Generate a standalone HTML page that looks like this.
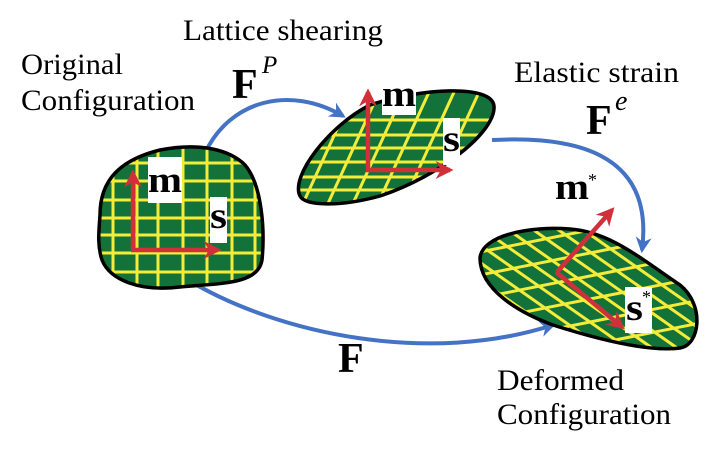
<!DOCTYPE html>
<html><head><meta charset="utf-8"><style>
html,body{margin:0;padding:0;background:#fff;width:726px;height:454px;overflow:hidden}
svg{display:block}
text{font-family:"Liberation Serif",serif;fill:#000}
.b{font-weight:bold}
</style></head><body>
<svg width="726" height="454" viewBox="0 0 726 454">
<defs>
<clipPath id="c1"><path d="M100,215 C100,180 120,160 160,150 C200,142 230,150 245,165 C262,185 265,230 262,260 C258,285 220,283 180,287 C140,292 110,280 102,260 C97,245 99,230 100,215 Z"/></clipPath>
<clipPath id="c2"><path d="M300,196 C290,176 330,125 370,105 C420,88 492,84 494,106 C496,132 440,176 380,196 C340,207 305,206 300,196 Z"/></clipPath>
<clipPath id="c3"><path d="M480,258 C482,235 530,226 570,229 C610,232 640,258 680,285 C705,305 700,345 680,348 C650,352 600,340 553,325 C520,313 480,290 480,258 Z"/></clipPath>
<marker id="ab" viewBox="0 0 10 10" refX="8" refY="5" markerWidth="4" markerHeight="4" orient="auto"><path d="M0,0 L10,5 L0,10 L3,5 Z" fill="#4472c4"/></marker>
<marker id="ar" viewBox="0 0 10 10" refX="8" refY="5" markerWidth="4" markerHeight="4" orient="auto"><path d="M0,0 L10,5 L0,10 L3,5 Z" fill="#d0303a"/></marker>
</defs>

<g fill="none" stroke="#4472c4" stroke-width="4">
<path d="M205,153 C230,100 290,85 343,116" marker-end="url(#ab)"/>
<path d="M492,140 C570,136 655,150 642,250" marker-end="url(#ab)"/>
<path d="M188,280 C280,335 430,365 553,325" marker-end="url(#ab)"/>
</g>

<path d="M100,215 C100,180 120,160 160,150 C200,142 230,150 245,165 C262,185 265,230 262,260 C258,285 220,283 180,287 C140,292 110,280 102,260 C97,245 99,230 100,215 Z" fill="#13723a"/>
<g clip-path="url(#c1)" stroke="#f5ec3a" stroke-width="3">
<line x1="113" y1="140" x2="113" y2="300"/><line x1="137" y1="140" x2="137" y2="300"/><line x1="158" y1="140" x2="158" y2="300"/><line x1="183" y1="140" x2="183" y2="300"/><line x1="207" y1="140" x2="207" y2="300"/><line x1="232" y1="140" x2="232" y2="300"/><line x1="255" y1="140" x2="255" y2="300"/>
<line x1="90" y1="163" x2="270" y2="163"/><line x1="90" y1="181" x2="270" y2="181"/><line x1="90" y1="200" x2="270" y2="200"/><line x1="90" y1="218" x2="270" y2="218"/><line x1="90" y1="235" x2="270" y2="235"/><line x1="90" y1="253" x2="270" y2="253"/><line x1="90" y1="272" x2="270" y2="272"/>
</g>
<path d="M100,215 C100,180 120,160 160,150 C200,142 230,150 245,165 C262,185 265,230 262,260 C258,285 220,283 180,287 C140,292 110,280 102,260 C97,245 99,230 100,215 Z" fill="none" stroke="#000" stroke-width="3.5"/>
<rect x="148" y="157" width="34" height="46" fill="#fff"/>
<text x="148" y="192" class="b" font-size="37" textLength="34" lengthAdjust="spacingAndGlyphs">m</text>
<rect x="210" y="197" width="17" height="46" fill="#fff"/>
<text x="210" y="228" class="b" font-size="37" textLength="17" lengthAdjust="spacingAndGlyphs">s</text>
<g stroke="#d0303a" stroke-width="4.5" fill="none">
<path d="M133,250 L133,173" marker-end="url(#ar)"/>
<path d="M131,250 L218,250" marker-end="url(#ar)"/>
</g>

<path d="M300,196 C290,176 330,125 370,105 C420,88 492,84 494,106 C496,132 440,176 380,196 C340,207 305,206 300,196 Z" fill="#13723a"/>
<g clip-path="url(#c2)" stroke="#f5ec3a" stroke-width="3">
<line x1="280" y1="120" x2="510" y2="120"/><line x1="280" y1="135" x2="510" y2="135"/><line x1="280" y1="148" x2="510" y2="148"/><line x1="280" y1="162" x2="510" y2="162"/><line x1="280" y1="177" x2="510" y2="177"/><line x1="280" y1="190" x2="510" y2="190"/>
<line x1="300" y1="210" x2="355" y2="90"/><line x1="325" y1="210" x2="380" y2="90"/><line x1="350" y1="210" x2="405" y2="90"/><line x1="375" y1="210" x2="430" y2="90"/><line x1="400" y1="210" x2="455" y2="90"/><line x1="425" y1="210" x2="480" y2="90"/><line x1="450" y1="210" x2="505" y2="90"/><line x1="275" y1="210" x2="330" y2="90"/>
</g>
<path d="M300,196 C290,176 330,125 370,105 C420,88 492,84 494,106 C496,132 440,176 380,196 C340,207 305,206 300,196 Z" fill="none" stroke="#000" stroke-width="3.5"/>
<rect x="382" y="80" width="34" height="35" fill="#fff"/>
<text x="382" y="106" class="b" font-size="37" textLength="34" lengthAdjust="spacingAndGlyphs">m</text>
<rect x="443" y="118" width="17" height="47" fill="#fff"/>
<text x="443" y="151" class="b" font-size="37" textLength="17" lengthAdjust="spacingAndGlyphs">s</text>
<g stroke="#d0303a" stroke-width="4.5" fill="none">
<path d="M368,170 L368,92" marker-end="url(#ar)"/>
<path d="M366,170 L450,170" marker-end="url(#ar)"/>
</g>

<path d="M480,258 C482,235 530,226 570,229 C610,232 640,258 680,285 C705,305 700,345 680,348 C650,352 600,340 553,325 C520,313 480,290 480,258 Z" fill="#13723a"/>
<g clip-path="url(#c3)" stroke="#f5ec3a" stroke-width="3">
<line x1="470" y1="254" x2="720" y2="204"/><line x1="470" y1="277" x2="720" y2="227"/><line x1="470" y1="300" x2="720" y2="250"/><line x1="470" y1="323" x2="720" y2="273"/><line x1="470" y1="346" x2="720" y2="296"/><line x1="470" y1="369" x2="720" y2="319"/><line x1="470" y1="392" x2="720" y2="342"/>
<line x1="480" y1="210" x2="680" y2="350"/><line x1="505" y1="210" x2="705" y2="350"/><line x1="530" y1="210" x2="730" y2="350"/><line x1="555" y1="210" x2="755" y2="350"/><line x1="455" y1="210" x2="655" y2="350"/><line x1="430" y1="210" x2="630" y2="350"/><line x1="405" y1="210" x2="605" y2="350"/><line x1="380" y1="210" x2="580" y2="350"/>
</g>
<path d="M480,258 C482,235 530,226 570,229 C610,232 640,258 680,285 C705,305 700,345 680,348 C650,352 600,340 553,325 C520,313 480,290 480,258 Z" fill="none" stroke="#000" stroke-width="3.5"/>
<rect x="625" y="287" width="27" height="46" fill="#fff"/>
<text x="626" y="320" class="b" font-size="37" textLength="17" lengthAdjust="spacingAndGlyphs">s</text><text x="642" y="303" font-size="18">*</text>
<g stroke="#d0303a" stroke-width="4.5" fill="none">
<path d="M557,272 L612,210" marker-end="url(#ar)"/>
<path d="M556,272 L622,327" marker-end="url(#ar)"/>
</g>
<text x="555" y="199" class="b" font-size="37" textLength="34" lengthAdjust="spacingAndGlyphs">m</text><text x="588" y="186" font-size="18">*</text>

<text x="183" y="40" font-size="30" textLength="200" lengthAdjust="spacingAndGlyphs">Lattice shearing</text>
<text x="21" y="74" font-size="30" textLength="102" lengthAdjust="spacingAndGlyphs">Original</text>
<text x="21" y="110" font-size="30" textLength="174" lengthAdjust="spacingAndGlyphs">Configuration</text>
<text x="232" y="98" class="b" font-size="42">F</text><text x="262" y="73" font-size="25" font-style="italic">P</text>
<text x="514" y="82" font-size="30" textLength="165" lengthAdjust="spacingAndGlyphs">Elastic strain</text>
<text x="586" y="134" class="b" font-size="42">F</text><text x="615" y="110" font-size="28" font-style="italic">e</text>
<text x="338" y="372" class="b" font-size="42">F</text>
<text x="497" y="390" font-size="30" textLength="127" lengthAdjust="spacingAndGlyphs">Deformed</text>
<text x="497" y="424" font-size="30" textLength="174" lengthAdjust="spacingAndGlyphs">Configuration</text>
</svg>
</body></html>
